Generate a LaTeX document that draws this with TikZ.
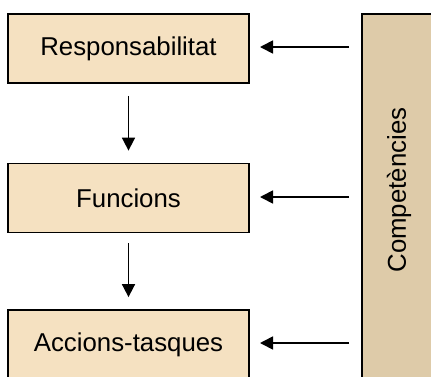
\documentclass[tikz,border=0pt]{standalone}
\usepackage{fontspec}
\setmainfont{Liberation Sans}
\usetikzlibrary{arrows.meta}
\definecolor{boxfill}{HTML}{F5E1C1}
\definecolor{barfill}{HTML}{DECBA9}
\begin{document}
\begin{tikzpicture}[x=1pt,y=-1pt,
  stagebox/.style={draw=black,line width=1.8pt,fill=boxfill,minimum width=241pt,minimum height=69pt,inner sep=0pt,font=\fontsize{25.8}{30}\selectfont},
  conn/.style={line width=1.7pt,-{Triangle[length=13pt,width=13pt]}}]
\useasboundingbox (0,0) rectangle (431,376);
\fill[barfill] (362,14) rectangle (440,390);
\draw[line width=1.8pt] (440,14) -- (362,14) -- (362,390);
\node[rotate=90,font=\fontsize{25.8}{30}\selectfont] (comp) at (399,190) {Competències};
\node[stagebox] (resp) at (128.5,48.5) {Responsabilitat};
\node[stagebox] (func) at (128.5,198) {Funcions};
\node[stagebox,minimum height=70pt] (acc) at (128.5,345) {Accions-tasques};
\coordinate (r1) at (349,47);
\coordinate (r2) at (349,197);
\coordinate (r3) at (349,343);
\coordinate (l1) at (260,47);
\coordinate (l2) at (260,197);
\coordinate (l3) at (260,343);
\draw[conn] (r1) -- (l1);
\draw[conn] (r2) -- (l2);
\draw[conn] (r3) -- (l3);
\draw[conn] ([yshift=-12pt]resp.south) -- ([yshift=12pt]func.north);
\draw[conn] ([yshift=-10pt]func.south) -- ([yshift=12pt]acc.north);
\end{tikzpicture}
\end{document}
